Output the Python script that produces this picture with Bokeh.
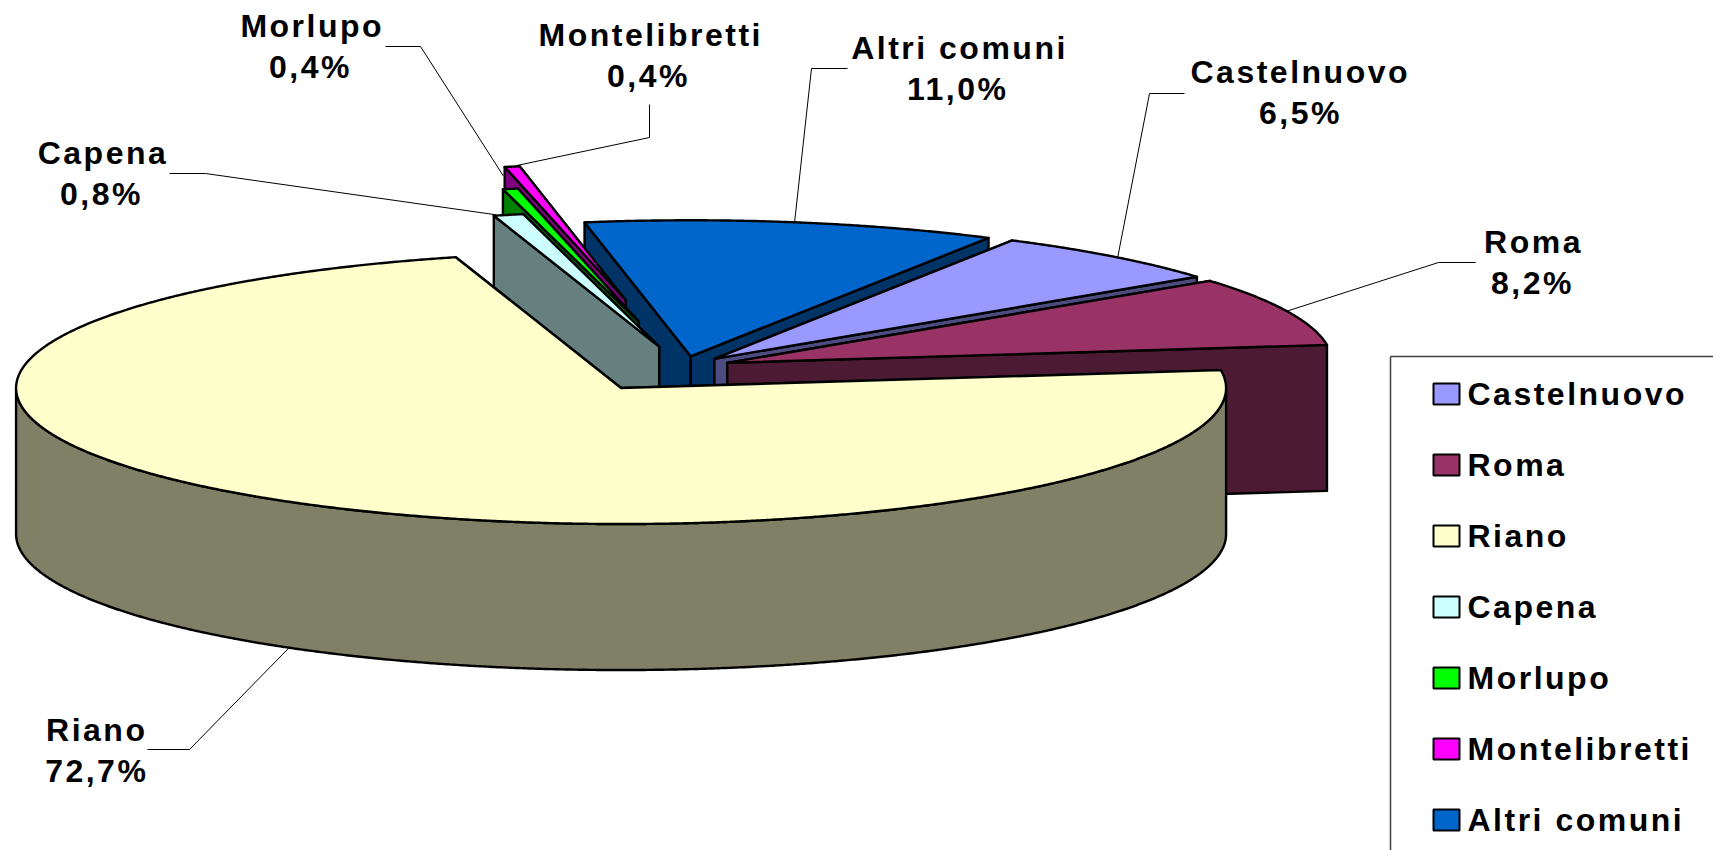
import numpy as np
from bokeh.embed import file_html
from bokeh.io import curdoc
from bokeh.models import CustomJS, Range1d
from bokeh.plotting import figure
from bokeh.resources import INLINE
from bokeh.core.properties import value

# ---- data ----
NAMES = ["Castelnuovo", "Roma", "Riano", "Capena", "Morlupo", "Montelibretti", "Altri comuni"]
SHARES = [6.5, 8.2, 72.7, 0.8, 0.4, 0.4, 11.0]
EXPLODE = [0.08, 0.08, 0.185, 0.155, 0.34, 0.50, 0.08]
TOP_COLORS = ["#9999FF", "#993366", "#FFFFCC", "#CCFFFF", "#00FF00", "#FF00FF", "#0066CC"]
WALL_COLORS = ["#4C4C80", "#4C1A33", "#808066", "#668080", "#008000", "#800080", "#003366"]
PAINT_ORDER = ["Altri comuni", "Montelibretti", "Morlupo", "Capena", "Castelnuovo", "Roma", "Riano"]

# ---- layout (page pixels) ----
CX, CY, RX, RY, DEPTH = 682.0, 366.5, 605.0, 136.0, 146.0
START_ANGLE = 60.5
# name x, percentage x, name y
LABEL_POS = {"Castelnuovo": (1286, 1295, 71.5), "Roma": (1528, 1527, 241.5), "Riano": (90, 90, 729),
             "Capena": (95, 96, 152.5), "Morlupo": (303, 305, 25.5), "Montelibretti": (634, 643, 34.5),
             "Altri comuni": (944, 951, 47.5)}
LINE_GAP = 41
LEADER_ELBOW = {"Castelnuovo": [(1184, 93), (1149, 93)], "Roma": [(1475, 262), (1438, 262)],
                "Riano": [(147, 749), (189, 749)], "Capena": [(169, 173), (205, 173)],
                "Morlupo": [(385, 46), (420, 46)], "Montelibretti": [(649, 104), (649, 137)],
                "Altri comuni": [(847, 68), (811, 68)]}
LEADER_NUDGE = {"Capena": (-12, 0), "Morlupo": (-7, -13), "Montelibretti": (4, -1), "Castelnuovo": (5, 0),
                "Altri comuni": (2, 0)}
FONT = value("Liberation Sans")
FONT_SIZE = "32px"
W, H = 1713, 850

p = figure(width=W, height=H, output_backend="svg", toolbar_location=None,
           x_range=Range1d(0, W), y_range=Range1d(H, 0), min_border=0)
p.axis.visible = False
p.grid.visible = False
p.outline_line_color = None

total = sum(SHARES)
spans = [s / total * 360 for s in SHARES]
starts = START_ANGLE - np.concatenate([[0], np.cumsum(spans)[:-1]])
geom = {}
for n, s, st, e in zip(NAMES, spans, starts, EXPLODE):
    mid = np.radians(st - s / 2)
    ax = CX + e * RX * np.cos(mid)
    ay = CY - e * RY * np.sin(mid)
    t = np.radians(np.linspace(st, st - s, max(int(s * 4), 8) + 1))
    geom[n] = dict(ax=ax, ay=ay, t=t, mid=mid)

for n in PAINT_ORDER:
    i = NAMES.index(n)
    g = geom[n]
    ax, ay, t = g["ax"], g["ay"], g["t"]
    ex = ax + RX * np.cos(t)
    ey = ay - RY * np.sin(t)
    style = dict(line_color="black", line_width=2.4, line_join="round")
    # the radial face that lies nearer to the viewer goes last
    for k in sorted((0, -1), key=lambda k: abs(np.cos(t[k]))):
        p.patch([ax, ex[k], ex[k], ax], [ay, ey[k], ey[k] + DEPTH, ay + DEPTH],
                fill_color=WALL_COLORS[i], **style)
    front = np.sin(t) <= 0
    if front.any():
        fx, fy = ex[front], ey[front]
        p.patch(np.r_[fx, fx[::-1]], np.r_[fy, fy[::-1] + DEPTH], fill_color=WALL_COLORS[i], **style)
    p.patch(np.r_[ax, ex], np.r_[ay, ey], fill_color=TOP_COLORS[i], **style)

# leader lines and data labels
for n, v in zip(NAMES, SHARES):
    g = geom[n]
    ex = g["ax"] + RX * np.cos(g["mid"])
    ey = g["ay"] - RY * np.sin(g["mid"])
    if np.sin(g["mid"]) < 0:
        ey += DEPTH
    dx, dy = LEADER_NUDGE.get(n, (0, 0))
    pts = LEADER_ELBOW[n] + [(ex + dx, ey + dy)]
    p.line([a for a, _ in pts], [b for _, b in pts], line_color="black", line_width=1)
    nx, px, y = LABEL_POS[n]
    pct = f"{v:.1f}".replace(".", ",") + "%"
    p.text([nx, px], [y, y + LINE_GAP], text=[n, pct], text_font=FONT, text_font_style="bold",
           text_font_size=FONT_SIZE, text_align="center", text_baseline="middle", text_color="black")

# legend
BOX_L, BOX_T = 1390, 356
p.line([BOX_L, BOX_L], [H, BOX_T], line_color="#404040", line_width=1.5)
p.line([BOX_L, W], [BOX_T, BOX_T], line_color="#404040", line_width=1.5)
for i, n in enumerate(NAMES):
    yc = 393.5 + 71 * i
    p.quad(left=[1433], right=[1459], top=[yc - 10.5], bottom=[yc + 10.5],
           fill_color=TOP_COLORS[i], line_color="black", line_width=2)
    p.text([1467], [yc], text=[n], text_font=FONT, text_font_style="bold", text_font_size=FONT_SIZE,
           text_align="left", text_baseline="middle", text_color="black")

# the reference's labels are letter-spaced; Bokeh has no such property, so it is set on the SVG text
spacing_js = """
function walk(root) {
  root.querySelectorAll('*').forEach(el => {
    if (el.tagName && el.tagName.toLowerCase() === 'text') {
      el.setAttribute('letter-spacing', '2.5');
      el.style.letterSpacing = '2.5px';
    }
    if (el.shadowRoot) walk(el.shadowRoot);
  });
}
let n = 0;
walk(document);
const h = setInterval(() => { walk(document); if (++n > 40) clearInterval(h); }, 50);
"""
doc = curdoc()
doc.add_root(p)
doc.js_on_event("document_ready", CustomJS(code=spacing_js))

open("out.html", "w").write(file_html(p, INLINE))
